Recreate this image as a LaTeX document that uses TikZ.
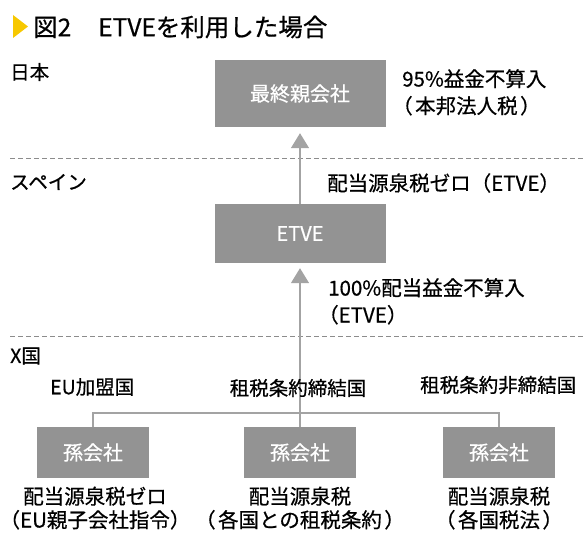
\documentclass[tikz,border=0pt]{standalone}
\usepackage{fontspec}
\setmainfont[FakeBold=0.6]{Noto Sans CJK JP}
\usetikzlibrary{arrows.meta}
\definecolor{boxgray}{HTML}{939393}
\definecolor{linegray}{HTML}{A3A3A3}
\definecolor{dashgray}{HTML}{8C8C8C}
\definecolor{titleyellow}{HTML}{F7C800}
\newcommand{\lp}{（\hspace{0.12em}}
\newcommand{\rp}{\hspace{0.12em}）}
\tikzset{
  box/.style={fill=boxgray, text=white, inner sep=0pt, font=\fontsize{20}{22}\selectfont},
  bigbox/.style={box, minimum width=171pt, minimum height=67pt},
  midbox/.style={box, minimum width=171pt, minimum height=59pt},
  smallbox/.style={box, minimum width=112pt, minimum height=51pt},
  lbl/.style={inner sep=0pt, font=\fontsize{20.5}{27}\selectfont, text=black},
  blbl/.style={inner sep=0pt, font=\fontsize{20.5}{23.5}\selectfont, text=black},
  clbl/.style={inner sep=0pt, font=\fontsize{19.5}{24}\selectfont, text=black},
  conn/.style={draw=linegray, line width=1.5pt},
  arr/.style={conn, -{Triangle[width=18pt,length=15pt]}},
  sep/.style={draw=dashgray, line width=1pt, dash pattern=on 5pt off 3pt}
}
\begin{document}
\begin{tikzpicture}[x=1pt,y=-1pt]
\useasboundingbox (0,0) rectangle (585,532);
% title
\fill[titleyellow] (13,15) -- (28,26.5) -- (13,38) -- cycle;
\node[anchor=west, inner sep=0pt, font=\fontsize{24.5}{28}\selectfont] (title) at (33,27) {図2\hspace{1.1em}ETVEを利用した場合};
% separators
\coordinate (s1a) at (10,158); \coordinate (s1b) at (585,158);
\coordinate (s2a) at (10,336); \coordinate (s2b) at (585,336);
\draw[sep] (s1a) -- (s1b);
\draw[sep] (s2a) -- (s2b);
% region labels
\node[clbl, anchor=west] (jp) at (10,72) {日本};
\node[clbl, anchor=west] (es) at (10,182) {スペイン};
\node[clbl, anchor=west] (xc) at (10,356) {X国};
% boxes
\node[bigbox] (parent) at (300,93.5) {最終親会社};
\node[midbox] (etve) at (300,233.5) {ETVE};
\node[smallbox] (g1) at (93,452.5) {孫会社};
\node[smallbox] (g2) at (300,452.5) {孫会社};
\node[smallbox] (g3) at (499,452.5) {孫会社};
% connectors
\coordinate (j1) at (93,413);
\coordinate (j2) at (300,413);
\coordinate (j3) at (499,413);
\draw[conn] (g1.north) -- (j1) -- (j3) -- (g3.north);
\draw[conn] (j2) -- (g2.north);
\draw[arr, shorten >=5pt] (j2) -- (etve.south);
\draw[arr, shorten >=6pt] (etve.north) -- (parent.south);
% texts
\node[lbl, anchor=north west, align=left] (t1) at (392,69) {\hspace*{10pt}95\%益金不算入\\\lp 本邦法人税\rp};
\node[lbl, anchor=west] (t2) at (327,183) {配当源泉税ゼロ（ETVE）};
\node[lbl, anchor=north west, align=left] (t3) at (318,278) {\hspace*{10pt}100\%配当益金不算入\\（ETVE）};
\node[clbl, anchor=west] (eu) at (50,387) {EU加盟国};
\node[clbl] (treaty) at (298,388) {租税条約締結国};
\node[clbl, anchor=west] (notreaty) at (420,385) {租税条約非締結国};
\node[blbl, anchor=north, align=center] (b1) at (95,486.5) {配当源泉税ゼロ\\（EU親子会社指令）};
\node[blbl, anchor=north, align=center] (b2) at (300,486.5) {配当源泉税\\\lp 各国との租税条約\rp};
\node[blbl, anchor=north, align=center] (b3) at (499,486.5) {配当源泉税\\\lp 各国税法\rp};
\end{tikzpicture}
\end{document}
